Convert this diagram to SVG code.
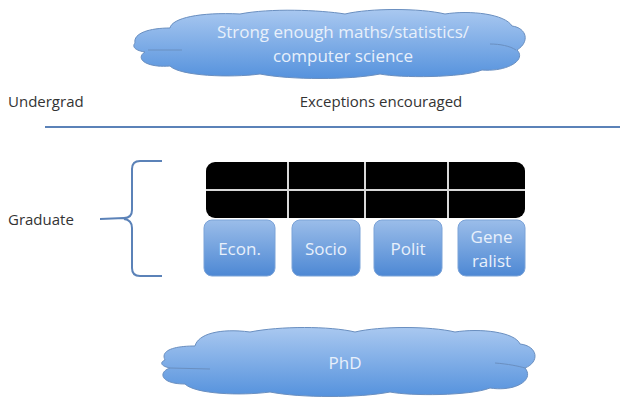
<svg xmlns="http://www.w3.org/2000/svg" width="620" height="402" viewBox="0 0 620 402">
  <defs>
    <linearGradient id="cloudFill" x1="0" y1="0" x2="0" y2="1">
      <stop offset="0" stop-color="#a9c8f0"/>
      <stop offset="1" stop-color="#5592dd"/>
    </linearGradient>
    <linearGradient id="boxFill" x1="0" y1="0" x2="0" y2="1">
      <stop offset="0" stop-color="#9bbde9"/>
      <stop offset="1" stop-color="#4d88d4"/>
    </linearGradient>
    <style>
      .cloud { fill: url(#cloudFill); stroke: #6a8fc0; stroke-width: 1; }
      .fold { fill: none; stroke: #6a8fc0; stroke-width: 1; }
      .box { fill: url(#boxFill); stroke: #7ba3d8; stroke-width: 1; }
      .in { font-family: "Open Sans", "Liberation Sans", sans-serif; font-size: 17px; fill: #e8f0fb; text-anchor: middle; }
      .lbl { font-family: "Open Sans", "Liberation Sans", sans-serif; font-size: 15px; fill: #333333; }
      .grid { fill: none; stroke: #d8d8d8; stroke-width: 2; }
    </style>
  </defs>

  <rect width="620" height="402" fill="#ffffff"/>

  <!-- entry requirement cloud -->
  <g id="requirements">
    <path class="cloud" d="M 135 43 C 133 33, 150 28, 170 28 C 172 18, 200 12, 240 14 C 270 8, 320 10, 345 14 C 370 8, 420 8, 445 14 C 470 10, 505 14, 512 26 C 527 28, 530 42, 517 50 C 527 60, 507 72, 482 70 C 462 78, 400 78, 380 74 C 350 80, 290 80, 260 74 C 230 78, 180 76, 170 66 C 145 68, 135 58, 145 52 C 132 50, 133 45, 135 43 Z"/>
    <path class="fold" d="M 148 50 L 182 50"/>
    <path class="fold" d="M 490 44 C 500 44, 510 46, 516 50"/>
    <text class="in" x="343" y="38" font-size="17.5">Strong enough maths/statistics/</text>
    <text class="in" x="343" y="62" font-size="17.5">computer science</text>
  </g>

  <g id="undergrad-label">
    <text class="lbl" x="8" y="107">Undergrad</text>
  </g>
  <g id="exceptions-label">
    <text class="lbl" x="381" y="107" text-anchor="middle" font-size="16.5">Exceptions encouraged</text>
  </g>

  <!-- divider between levels -->
  <g id="divider">
    <line x1="45" y1="127" x2="620" y2="127" stroke="#5b82b8" stroke-width="2"/>
  </g>

  <g id="graduate-label">
    <text class="lbl" x="8" y="225">Graduate</text>
  </g>

  <!-- brace grouping the graduate tracks -->
  <g id="brace">
    <path d="M 162 161 L 140 161 Q 132 161, 132 169 L 132 210 Q 132 218, 124 218 L 100 219 M 124 219 Q 132 220, 132 228 L 132 268 Q 132 276, 140 276 L 162 276" fill="none" stroke="#5b82b8" stroke-width="2"/>
  </g>

  <!-- shared core courses -->
  <g id="core-grid">
    <rect x="206" y="162" width="319" height="56" rx="9" fill="#000000"/>
    <path class="grid" d="M 206 190 L 525 190 M 288 162 L 288 218 M 365 162 L 365 218 M 448 162 L 448 218"/>
  </g>

  <g id="econ">
    <rect class="box" x="204" y="220" width="71" height="56" rx="8"/>
    <text class="in" x="239.5" y="255">Econ.</text>
  </g>
  <g id="socio">
    <rect class="box" x="292" y="220" width="68" height="56" rx="8"/>
    <text class="in" x="326" y="255">Socio</text>
  </g>
  <g id="polit">
    <rect class="box" x="374" y="220" width="68" height="56" rx="8"/>
    <text class="in" x="408" y="255">Polit</text>
  </g>
  <g id="generalist">
    <rect class="box" x="458" y="220" width="67" height="56" rx="8"/>
    <text class="in" x="491.5" y="243">Gene</text>
    <text class="in" x="491.5" y="267">ralist</text>
  </g>

  <!-- doctorate cloud -->
  <g id="phd">
    <path class="cloud" d="M 165 360 C 160 350, 175 346, 195 346 C 198 334, 220 328, 250 332 C 280 326, 330 326, 355 332 C 380 326, 430 326, 455 332 C 480 328, 515 332, 520 344 C 538 346, 540 362, 525 368 C 535 380, 515 392, 490 388 C 470 396, 410 396, 390 392 C 360 398, 300 398, 270 392 C 240 396, 195 394, 185 384 C 160 384, 158 372, 170 368 C 160 366, 160 362, 165 360 Z"/>
    <path class="fold" d="M 170 368 L 210 369"/>
    <path class="fold" d="M 495 363 C 508 364, 518 366, 525 368"/>
    <text class="in" x="345" y="369">PhD</text>
  </g>
</svg>
